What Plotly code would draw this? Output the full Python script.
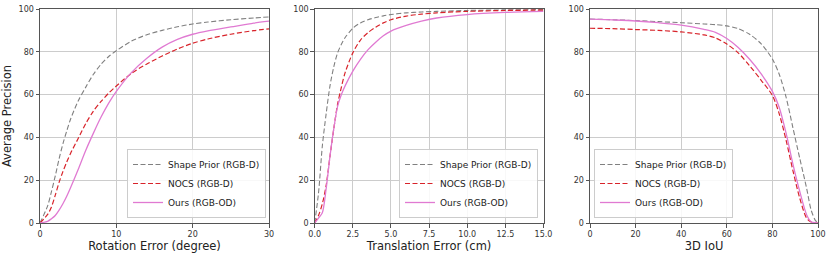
import plotly.graph_objects as go

# ---------------- data ----------------
rot_x = [0, 1, 1.5, 2, 2.5, 3, 3.5, 4, 5, 6, 7, 8, 9, 10, 12, 14, 16, 18, 20, 22, 25, 28, 30]
rot_shape = [0, 8, 14.7, 22, 30, 37, 43, 48.5, 57, 63.5, 69.5, 74.2, 77.8, 80.5, 85, 88, 90, 91.7, 93, 93.9, 95, 95.8, 96.3]
rot_nocs = [0, 4, 7.5, 13, 19, 24, 28.5, 32.5, 39.5, 46.5, 52.3, 56.8, 60.7, 64, 70, 74.3, 78, 81.3, 84, 86, 88.2, 89.9, 90.7]
rot_ours = [0, 0.8, 2, 3.5, 6, 9, 12.5, 16.5, 25, 34, 42, 49.5, 56, 61.5, 70.4, 77, 82.2, 85.8, 88.2, 89.8, 91.6, 93.4, 94.3]

tr_x = [0, 0.25, 0.5, 0.75, 1, 1.25, 1.5, 1.75, 2, 2.5, 3, 3.5, 4, 4.5, 5, 6, 7, 8, 10, 12.5, 15]
tr_shape = [0, 14, 36, 51, 64, 73, 79.5, 83.5, 86.7, 91, 93.5, 95, 96, 96.8, 97.4, 98.2, 98.6, 98.9, 99.3, 99.6, 99.7]
tr_nocs = [0, 3.5, 9, 17.5, 31, 44, 55.5, 63.5, 70.4, 79.5, 85.5, 89, 91.5, 93.5, 95, 96.7, 97.6, 98.2, 98.9, 99.3, 99.5]
tr_ours = [0, 2.3, 4.8, 16, 31, 44, 54.5, 60, 64.2, 71, 76.5, 81, 84.5, 87.5, 89.7, 92.3, 94.3, 95.8, 97.4, 98.4, 98.9]

iou_x = [0, 10, 20, 30, 40, 50, 55, 60, 65, 70, 75, 80, 83, 86, 89, 92, 95, 97, 99, 100]
iou_shape = [95.3, 95, 94.6, 94.1, 93.6, 93, 92.7, 92.1, 90.8, 88.2, 83.8, 76.6, 69.5, 58.8, 44.5, 30.2, 16.3, 6, 1, 0.3]
iou_nocs = [91, 90.8, 90.4, 90, 89.3, 87.9, 86.5, 83.6, 79.5, 73.5, 66.8, 59.6, 51, 38.7, 24.5, 11.6, 2.3, 0.5, 0, 0]
iou_ours = [95.3, 94.9, 94.4, 93.6, 92.5, 90.5, 89.1, 86.2, 82, 76.5, 69.8, 61.5, 54, 42, 27.5, 14.7, 3.9, 0.6, 0.1, 0]

series_names = ["Shape Prior (RGB-D)", "NOCS (RGB-D)", "Ours (RGB-OD)"]
x_titles = ["Rotation Error (degree)", "Translation Error (cm)", "3D IoU"]
y_title = "Average Precision"
tick_rot = [0, 10, 20, 30]
tick_tr = [0, 2.5, 5, 7.5, 10, 12.5, 15]
tick_tr_text = ["0.0", "2.5", "5.0", "7.5", "10.0", "12.5", "15.0"]
tick_iou = [0, 20, 40, 60, 80, 100]
tick_y = [0, 20, 40, 60, 80, 100]

# ---------------- styling ----------------
colors = ["#808080", "#d8232a", "#e07ad2"]
dashes = ["5px,2.5px", "5px,2.5px", "solid"]
widths = [1.1, 1.2, 1.3]
FONT = "DejaVu Sans"

fig = go.Figure()

panels = [
    (rot_x, [rot_shape, rot_nocs, rot_ours], "x", "y", "legend"),
    (tr_x, [tr_shape, tr_nocs, tr_ours], "x2", "y2", "legend2"),
    (iou_x, [iou_shape, iou_nocs, iou_ours], "x3", "y3", "legend3"),
]
for xs, ys_list, xa, ya, lg in panels:
    for i, ys in enumerate(ys_list):
        fig.add_trace(go.Scatter(
            x=xs, y=ys, mode="lines", name=series_names[i],
            line=dict(color=colors[i], dash=dashes[i], width=widths[i],
                      shape="spline", smoothing=0.8),
            xaxis=xa, yaxis=ya, legend=lg, showlegend=True,
        ))

L, R, T, B = 40, 13, 9, 33
W, H = 831, 256
pw = W - L - R
ph = H - T - B

def px(p):
    return (p - L) / pw

def py(p):
    return (H - B - p) / ph

domains = [[0, px(269)], [px(314.7), px(543.5)], [px(590), 1]]

axis_common = dict(
    showline=True, linecolor="#555555", linewidth=1, mirror=True,
    ticks="outside", ticklen=3.5, tickcolor="#555555", tickwidth=1,
    showgrid=True, gridcolor="#cccccc", gridwidth=1, automargin=False,
    zeroline=False, tickfont=dict(family=FONT, size=8, color="#333333"),
)

xranges = [[0, 30], [0, 15], [0, 100]]
xticks = [(tick_rot, [str(v) for v in tick_rot]), (tick_tr, tick_tr_text),
          (tick_iou, [str(v) for v in tick_iou])]

layout = dict(
    width=W, height=H, margin=dict(l=L, r=R, t=T, b=B, autoexpand=False),
    paper_bgcolor="white", plot_bgcolor="white",
    font=dict(family=FONT, color="#222222"),
)
for k in range(3):
    sx = "" if k == 0 else str(k + 1)
    layout["xaxis" + sx] = dict(
        axis_common, domain=domains[k], range=xranges[k], anchor="y" + sx,
        tickmode="array", tickvals=xticks[k][0], ticktext=xticks[k][1],
        title=dict(text=x_titles[k], font=dict(family=FONT, size=11.5, color="#222222"),
                   standoff=2),
    )
    yd = dict(
        axis_common, domain=[0, 1], range=[0, 100], anchor="x" + sx,
        tickmode="array", tickvals=tick_y,
    )
    if k == 0:
        yd["title"] = dict(text=y_title, font=dict(family=FONT, size=11.5, color="#222222"),
                           standoff=4)
    layout["yaxis" + sx] = yd

leg_common = dict(
    bgcolor="rgba(255,255,255,0.85)", bordercolor="#cccccc", borderwidth=1,
    font=dict(family=FONT, size=9, color="#222222"),
    yanchor="bottom", y=py(218), tracegroupgap=0, itemwidth=30,
)
layout["legend"] = dict(leg_common, xanchor="right", x=px(266))
layout["legend2"] = dict(leg_common, xanchor="right", x=px(538))
layout["legend3"] = dict(leg_common, xanchor="left", x=px(594))

fig.update_layout(**layout)
fig.write_html(
    "out.html",
    config={"displayModeBar": False},
    post_script="document.body.style.margin='0';document.body.style.overflow='hidden';",
)
